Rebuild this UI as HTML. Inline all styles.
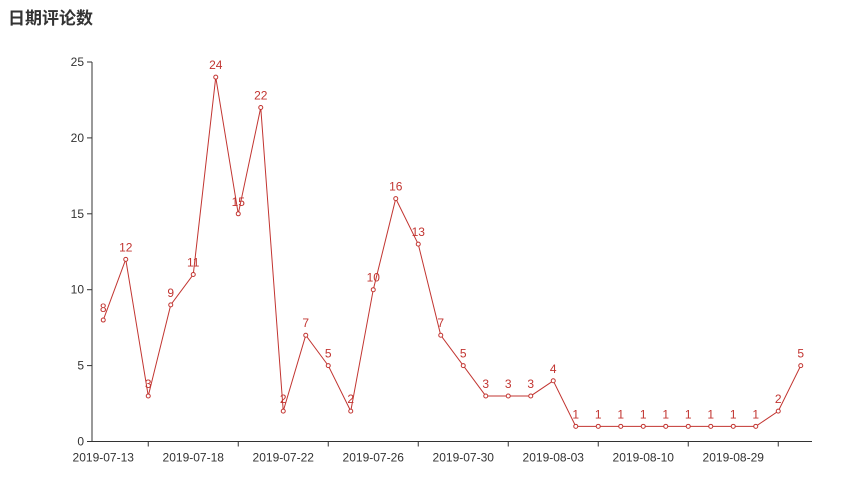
<!DOCTYPE html>
<html><head><meta charset="utf-8"><style>
body{margin:0;background:#fff;width:857px;height:475px;overflow:hidden;font-family:"Liberation Sans","Noto Sans CJK SC",sans-serif}
</style></head><body>
<svg width="857" height="475" id="c">
<text x="8" y="24" font-size="17" font-weight="bold" fill="#333" font-family="Liberation Sans, Noto Sans CJK SC, sans-serif">日期评论数</text>
</svg>
<script>
const categories=["2019-07-13","2019-07-14","2019-07-15","2019-07-16","2019-07-18","2019-07-19","2019-07-20","2019-07-21","2019-07-22","2019-07-23","2019-07-24","2019-07-25","2019-07-26","2019-07-27","2019-07-28","2019-07-29","2019-07-30","2019-07-31","2019-08-01","2019-08-02","2019-08-03","2019-08-04","2019-08-05","2019-08-07","2019-08-10","2019-08-12","2019-08-15","2019-08-20","2019-08-29","2019-09-01","2019-09-03","2019-09-05"];
const values=[8,12,3,9,11,24,15,22,2,7,5,2,10,16,13,7,5,3,3,3,4,1,1,1,1,1,1,1,1,1,2,5];
const yTicks=[0,5,10,15,20,25];
const svg=document.getElementById('c');const NS='http://www.w3.org/2000/svg';
const L=92,R=812,T=62,B=441.5,yMax=25;
const step=(R-L)/categories.length;
const xs=i=>L+step*(i+0.5);
const ys=v=>B-(v/yMax)*(B-T);
function mk(t,a,p){const e=document.createElementNS(NS,t);for(const k in a)e.setAttribute(k,a[k]);(p||svg).appendChild(e);return e;}
const font="Liberation Sans, Noto Sans CJK SC, sans-serif";
yTicks.forEach(v=>{
 const t=mk('text',{x:L-8,y:ys(v)+4,'text-anchor':'end','font-size':12,fill:'#333','font-family':font});
 t.textContent=v;
 
 
 mk('line',{x1:L-5,x2:L,y1:ys(v),y2:ys(v),stroke:'#333'});
});
const ya=mk('line',{x1:L,x2:L,y1:T,y2:B,stroke:'#333'});


const xa=mk('line',{x1:L,x2:R,y1:B,y2:B,stroke:'#333'});


categories.forEach((c,i)=>{
 if(i%4===2) mk('line',{x1:xs(i),x2:xs(i),y1:B,y2:B+5,stroke:'#333'});
 if(i%4===0){
  const t=mk('text',{x:xs(i),y:B+20,'text-anchor':'middle','font-size':12,fill:'#333','font-family':font});
  t.textContent=c;
  
  
 }
});
const col='#c23531';
const line=mk('polyline',{points:values.map((v,i)=>xs(i)+','+ys(v)).join(' '),fill:'none',stroke:col,'stroke-width':1});


values.forEach((v,i)=>{
 const p=mk('circle',{cx:xs(i),cy:ys(v),r:2,fill:'#fff',stroke:col,'stroke-width':1});
 
 
 const t=mk('text',{x:xs(i),y:ys(v)-8,'text-anchor':'middle','font-size':12,fill:col,'font-family':font});
 t.textContent=v;
 
 
});
</script>
</body></html>
